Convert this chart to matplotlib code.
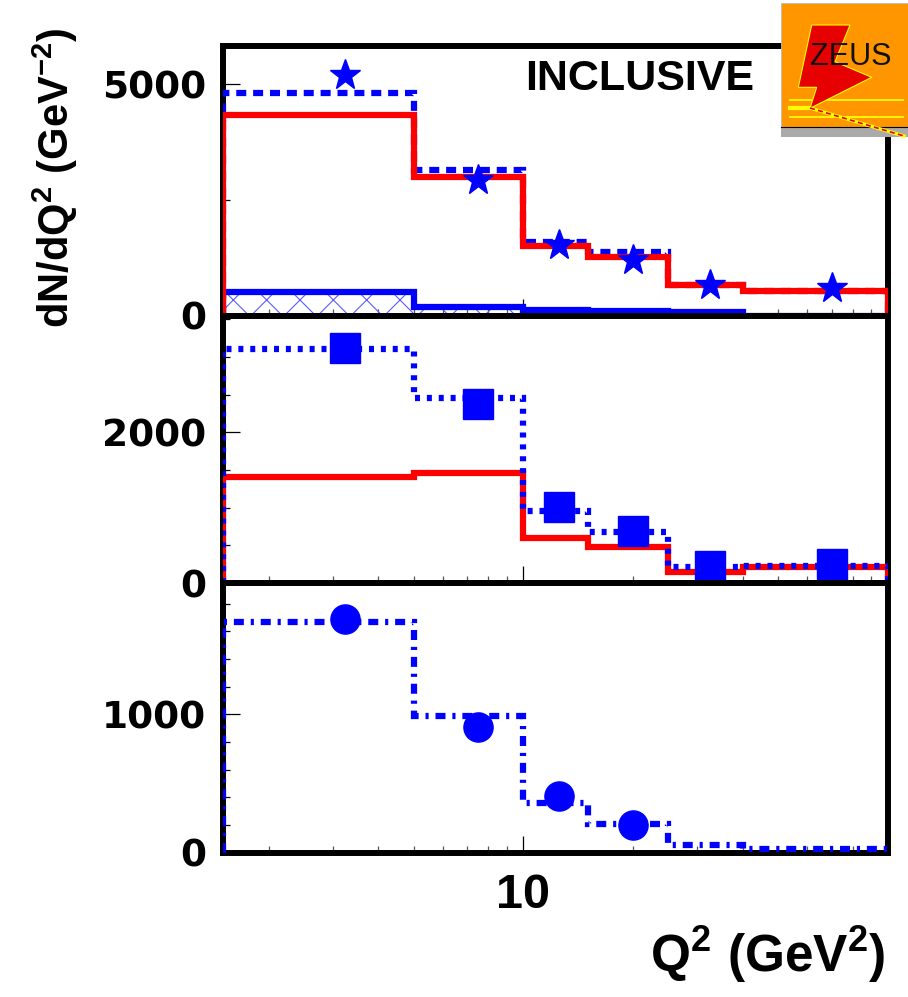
import matplotlib
matplotlib.use("Agg")
import matplotlib.pyplot as plt
from matplotlib.ticker import NullFormatter
from matplotlib.patches import Rectangle, Polygon
from matplotlib.lines import Line2D

plt.rcParams["mathtext.fontset"] = "custom"
plt.rcParams["mathtext.rm"] = "Liberation Sans:bold"
plt.rcParams["mathtext.it"] = "Liberation Sans:bold"
plt.rcParams["mathtext.bf"] = "Liberation Sans:bold"
plt.rcParams["hatch.linewidth"] = 0.8

# Q^2 binning (GeV^2) and bin centres used for the data points
q2_edges = [1.5, 5, 10, 15, 25, 40, 100]
q2_centres = [3.25, 7.5, 12.5, 20, 32.5, 70]

# top panel: inclusive sample
incl_data = [5190, 2930, 1530, 1210, 670, 600]
incl_mc_total = [4800, 3150, 1600, 1380, 670, 545]
incl_mc_red = [4330, 3000, 1510, 1280, 670, 540]
incl_background = [524, 194, 140, 110, 80, 0]

# middle panel
mid_data = [3126, 2377, 1009, 692, 225, 251]
mid_mc_dotted = [3104, 2456, 952, 679, 208, 225]
mid_mc_red = [1406, 1459, 591, 472, 150, 216]

# bottom panel
low_centres = [3.25, 7.5, 12.5, 20]
low_data = [1692, 905, 408, 199]
low_mc_dashdot = [1668, 986, 355, 204, 52, 28]

y_limits = [5820, 3545, 1950]
y_major = [[0, 5000], [0, 2000], [0, 1000]]
y_minor = [[2500], [500, 1000, 1500, 2500, 3000, 3500],
           [200, 400, 600, 800, 1200, 1400, 1600, 1800]]

BLUE = "#0000ff"
RED = "#ff0000"
LW = 4.5

W, H = 908, 997
fig = plt.figure(figsize=(W / 100, H / 100), dpi=100)


def px(x, y):
    return (x / W, 1 - y / H)


left, right = 223, 888
bounds = [(46, 316), (316, 583), (583, 852.5)]
axes = []
for top, bot in bounds:
    ax = fig.add_axes([left / W, 1 - bot / H, (right - left) / W, (bot - top) / H])
    axes.append(ax)

minor_x = [2, 3, 4, 5, 6, 7, 8, 9, 20, 30, 40, 50, 60, 70, 80, 90]
for i, ax in enumerate(axes):
    ax.set_xscale("log")
    ax.set_xlim(1.5, 100)
    ax.set_ylim(0, y_limits[i])
    for s in ax.spines.values():
        s.set_linewidth(4.3)
        s.set_color("black")
    ax.tick_params(axis="both", which="both", direction="in", top=False, right=False)
    ax.tick_params(axis="y", which="major", length=12, width=0.9, pad=12)
    ax.tick_params(axis="y", which="minor", length=5, width=0.9)
    ax.tick_params(axis="x", which="major", length=12, width=0.9, pad=15)
    ax.tick_params(axis="x", which="minor", length=5, width=0.9, color="#555555")
    ax.set_xticks(minor_x, minor=True)
    ax.xaxis.set_minor_formatter(NullFormatter())
    if i == 2:
        ax.set_xticks([10], ["10"], fontsize=35, fontfamily="Liberation Sans",
                      fontweight="bold")
    else:
        ax.set_xticks([10], [""])
    ax.set_yticks(y_major[i], [str(v) for v in y_major[i]], fontsize=27,
                  fontfamily="DejaVu Sans", fontweight="bold")
    ax.set_yticks(y_minor[i], minor=True)

# --- top panel ---
ax = axes[0]
ax.stairs(incl_background, q2_edges, baseline=0, fill=True, facecolor="none",
          edgecolor="#5a5aff", hatch="x", linewidth=0, zorder=2)
ax.stairs(incl_background, q2_edges, baseline=0, color=BLUE, linewidth=LW, zorder=3)
ax.stairs(incl_mc_total, q2_edges, baseline=0, color=BLUE, linewidth=LW,
          linestyle=(0, (1.6, 1.1)), zorder=3)
ax.stairs(incl_mc_red, q2_edges, baseline=0, color=RED, linewidth=LW, zorder=3.2)
ax.plot(q2_centres, incl_data, linestyle="none", marker="*", markersize=23,
        color=BLUE, markeredgecolor=BLUE, zorder=4)
fig.text(*px(525, 90), "INCLUSIVE", ha="left", va="baseline", fontsize=31,
         fontfamily="Liberation Sans", fontweight="bold")

# --- middle panel ---
ax = axes[1]
ax.stairs(mid_mc_red, q2_edges, baseline=0, color=RED, linewidth=LW, zorder=3)
ax.stairs(mid_mc_dotted, q2_edges, baseline=0, color=BLUE, linewidth=LW,
          linestyle=(0, (0.8, 1.1)), zorder=3.2)
ax.plot(q2_centres, mid_data, linestyle="none", marker="s", markersize=21,
        color=BLUE, markeredgecolor=BLUE, zorder=4)

# --- bottom panel ---
ax = axes[2]
ax.stairs(low_mc_dashdot, q2_edges, baseline=0, color=BLUE, linewidth=LW,
          linestyle=(0, (1.6, 1.1, 0.5, 1.1)), zorder=3)
ax.plot(low_centres, low_data, linestyle="none", marker="o", markersize=21,
        color=BLUE, markeredgecolor=BLUE, zorder=4)

# axis titles
fig.text(*px(55, 178), r"$\mathrm{dN/dQ^{2}\ (GeV^{-2})}$", rotation=90,
         ha="center", va="center", fontsize=30)
fig.text(*px(886, 972), r"$\mathrm{Q^{2}\ (GeV^{2})}$", ha="right",
         va="baseline", fontsize=37)

# --- ZEUS logo ---
tf = fig.transFigure
fig.patches.append(Rectangle(px(781, 127), 127 / W, 124 / H, facecolor="#ff9600",
                             edgecolor="#bbbbbb", linewidth=0.6, transform=tf, zorder=10))
fig.patches.append(Rectangle(px(781, 137), 127 / W, 10 / H, facecolor="#aaaaaa",
                             edgecolor="none", transform=tf, zorder=10))
fig.lines.append(Line2D([781 / W, 908 / W], [1 - 127 / H] * 2, color="black",
                        linewidth=0.8, transform=tf, zorder=11))
for yy in (100, 117):
    fig.lines.append(Line2D([790 / W, 903 / W], [1 - yy / H] * 2, color="#ffff00",
                            linewidth=1.3, transform=tf, zorder=11))
fig.lines.append(Line2D([790 / W, 812 / W], [1 - 108 / H] * 2, color="#ffff00",
                        linewidth=3, transform=tf, zorder=11))
bolt = [(811.7, 25), (850, 25), (835, 61.7), (871.7, 77.3), (810, 108.3),
        (816.7, 87.3), (798.3, 87.3)]
fig.patches.append(Polygon([px(x, y) for x, y in bolt], closed=True,
                           facecolor="#e60000", edgecolor="#ffff00",
                           linewidth=0.8, transform=tf, zorder=11))
fig.lines.append(Line2D([810 / W, 904 / W], [1 - 108 / H, 1 - 136 / H],
                        color="#ffff00", linewidth=2.4, transform=tf, zorder=12))
fig.lines.append(Line2D([810 / W, 904 / W], [1 - 108 / H, 1 - 136 / H],
                        color="#e60000", linewidth=1.2, linestyle=(0, (3, 2)),
                        transform=tf, zorder=13))
fig.text(*px(851, 65), "ZEUS", ha="center", va="baseline", fontsize=22,
         fontfamily="Liberation Sans", color="#111111", zorder=14)

fig.savefig("out.png", dpi=100)
